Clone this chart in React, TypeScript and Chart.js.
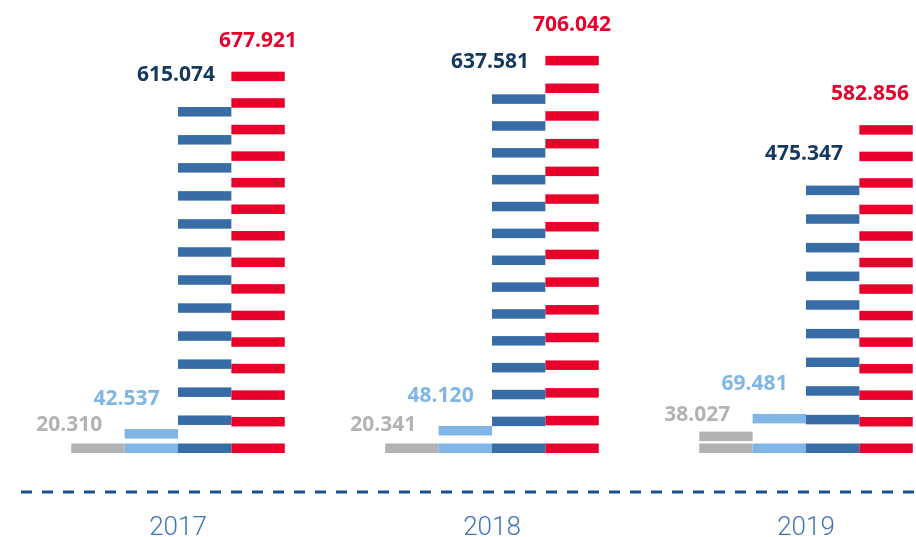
import { useEffect, useRef } from 'react';
import { Chart, registerables } from 'chart.js';

Chart.register(...registerables);

// ---- data ----
const years = ['2017', '2018', '2019'];
const grayValues = [20.31, 20.341, 38.027];
const lightBlueValues = [42.537, 48.12, 69.481];
const darkBlueValues = [615.074, 637.581, 475.347];
const redValues = [677.921, 706.042, 582.856];
// number of stripe units shown in each bar
const grayStripes = [1, 1, 2];
const lightBlueStripes = [2, 2, 2];
const darkBlueStripes = [13, 14, 10];
const redStripes = [15, 15, 13];

const yMin = -69.33;
const yMax = 800;

const STRIPE = 9.5;
const VISIBLE_RIGHT = 909; // labels are kept inside the visible frame

const fmt = (v: number) => v.toFixed(3);

const stripePlugin = {
  id: 'stripes',
  beforeDatasetDraw(chart: any, args: any) {
    const ds = chart.data.datasets[args.index];
    const ctx = chart.ctx;
    ctx.save();
    args.meta.data.forEach((el: any, i: number) => {
      const { x, y, base, width } = el.getProps(['x', 'y', 'base', 'width'], true);
      const left = x - width / 2;
      const h = base - y;
      const n = ds.stripes[i];
      const t = Math.min(STRIPE, h);
      const step = n > 1 ? (h - t) / (n - 1) : 0;
      ctx.fillStyle = ds.backgroundColor;
      for (let k = 0; k < n; k++) {
        ctx.fillRect(left, base - t - k * step, width, t);
      }
    });
    ctx.restore();
    return false;
  },
  afterDatasetsDraw(chart: any) {
    const ctx = chart.ctx;
    ctx.save();
    ctx.font = 'bold 21px "Open Sans", "Noto Sans", sans-serif';
    ctx.textAlign = 'center';
    ctx.textBaseline = 'middle';
    chart.data.datasets.forEach((ds: any, di: number) => {
      const meta = chart.getDatasetMeta(di);
      meta.data.forEach((el: any, i: number) => {
        const { x, y, width } = el.getProps(['x', 'y', 'width'], true);
        const text = fmt(ds.data[i]);
        const w = ctx.measureText(text).width;
        let lx = ds.labelAnchor === 'center' ? x + ds.labelDx : x - width / 2 + ds.labelDx;
        lx = Math.min(lx, VISIBLE_RIGHT - w / 2);
        ctx.fillStyle = ds.labelColor;
        ctx.fillText(text, lx, y + ds.labelDy);
      });
    });
    ctx.restore();
  },
  afterDraw(chart: any) {
    // dashed baseline along the x axis
    const xs = chart.scales.x;
    const ctx = chart.ctx;
    ctx.save();
    ctx.strokeStyle = '#1C4F8E';
    ctx.lineWidth = 3;
    ctx.setLineDash([11, 10]);
    ctx.beginPath();
    ctx.moveTo(xs.left, xs.top);
    ctx.lineTo(xs.right, xs.top);
    ctx.stroke();
    ctx.restore();
  },
};

export default function App() {
  const ref = useRef<HTMLCanvasElement | null>(null);

  useEffect(() => {
    if (!ref.current) return;
    const chart = new Chart(ref.current, {
      type: 'bar',
      data: {
        labels: years,
        datasets: [
          {
            label: 'gray',
            data: grayValues,
            backgroundColor: '#B2B2B2',
            stripes: grayStripes,
            labelColor: '#B3B3B3',
            labelAnchor: 'left',
            labelDx: -2,
            labelDy: -17,
          } as any,
          {
            label: 'light',
            data: lightBlueValues,
            backgroundColor: '#7FB6E6',
            stripes: lightBlueStripes,
            labelColor: '#7FB6E6',
            labelAnchor: 'left',
            labelDx: 2,
            labelDy: -30,
          } as any,
          {
            label: 'dark',
            data: darkBlueValues,
            backgroundColor: '#386CA6',
            stripes: darkBlueStripes,
            labelColor: '#15385F',
            labelAnchor: 'left',
            labelDx: -2,
            labelDy: -32,
          } as any,
          {
            label: 'red',
            data: redValues,
            backgroundColor: '#E8002B',
            stripes: redStripes,
            labelColor: '#E8002B',
            labelAnchor: 'center',
            labelDx: 0,
            labelDy: -31,
          } as any,
        ],
      },
      options: {
        animation: false,
        responsive: false,
        devicePixelRatio: 1,
        datasets: { bar: { categoryPercentage: 0.68, barPercentage: 1 } },
        layout: { padding: { left: 21, right: 0, top: 3, bottom: 0 } },
        plugins: { legend: { display: false }, tooltip: { enabled: false } },
        scales: {
          x: {
            type: 'category',
            grid: { display: false },
            border: { display: false },
            ticks: {
              color: '#3F76B9',
              padding: 13,
              font: { family: 'Roboto, "Liberation Sans Narrow", sans-serif', size: 26, weight: '300' },
            },
            afterFit: (scale: any) => {
              scale.height = 45;
            },
          } as any,
          y: { display: false, min: yMin, max: yMax },
        },
      },
      plugins: [stripePlugin as any],
    });
    return () => chart.destroy();
  }, []);

  return (
    <div style={{ position: 'fixed', left: 0, top: 0, width: 916, height: 537, overflow: 'hidden', background: '#fff' }}>
      <canvas ref={ref} width={963} height={537} style={{ width: 963, height: 537, display: 'block' }} />
    </div>
  );
}
